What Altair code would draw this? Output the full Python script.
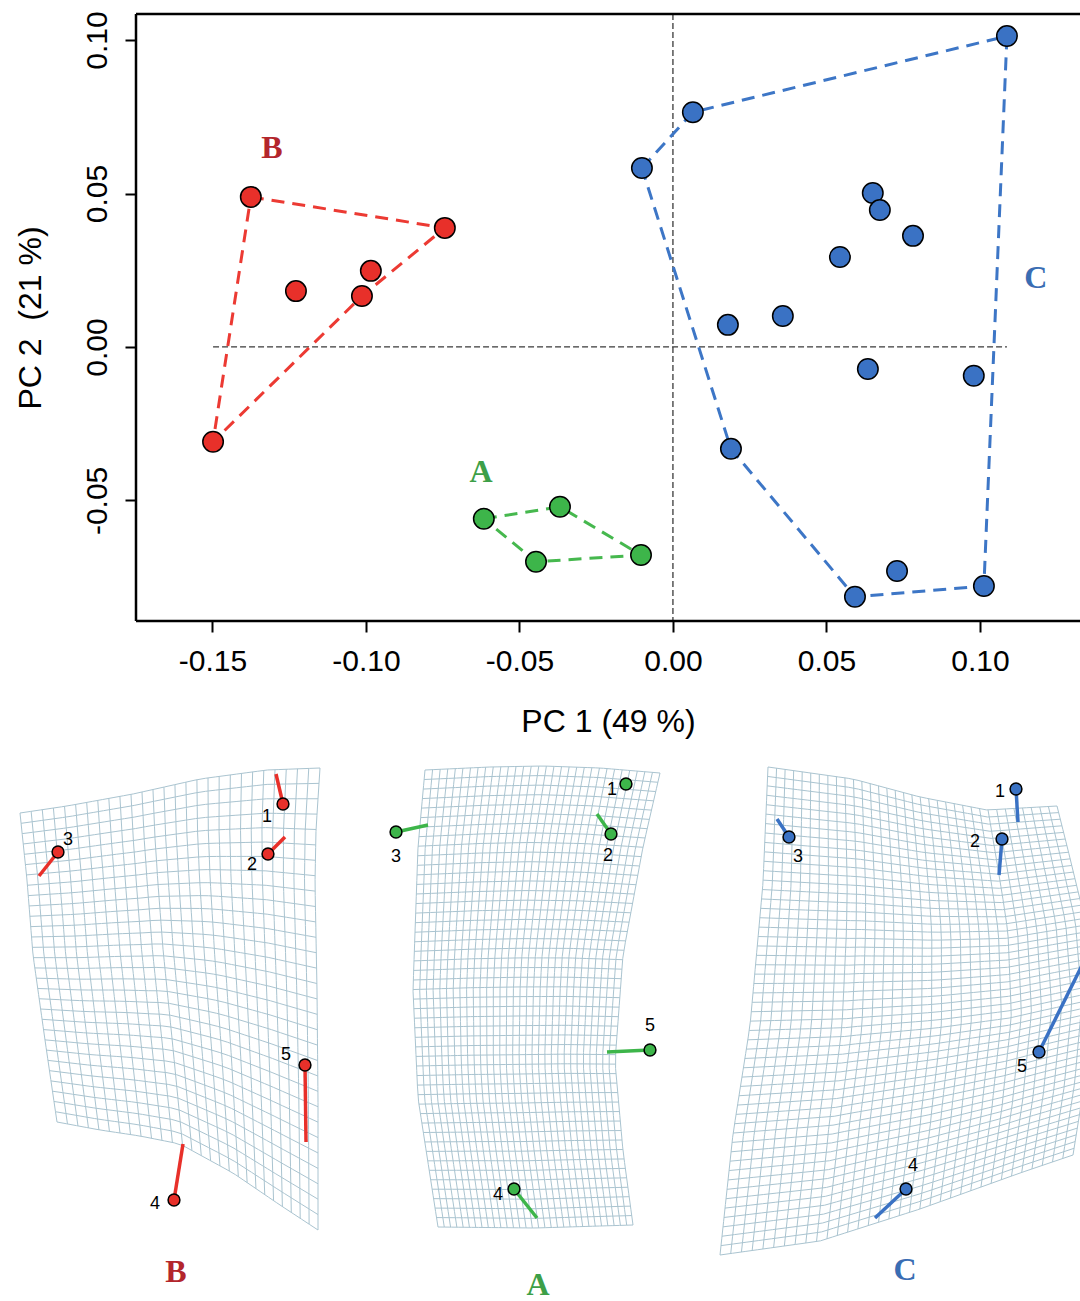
import numpy as np
import pandas as pd
import altair as alt

alt.data_transformers.disable_max_rows()

# ---------------- PCA scores ----------------
b_pc1 = [-0.1375, -0.0743, -0.0984, -0.1013, -0.1228, -0.1498]
b_pc2 = [0.0489, 0.0388, 0.0248, 0.0166, 0.0182, -0.0309]
a_pc1 = [-0.0616, -0.0368, -0.0446, -0.0104]
a_pc2 = [-0.0560, -0.0521, -0.0700, -0.0678]
c_pc1 = [0.1088, 0.0065, -0.0101, 0.0651, 0.0674, 0.0782, 0.0544, 0.0179,
         0.0358, 0.0635, 0.0980, 0.0189, 0.0730, 0.0593, 0.1013]
c_pc2 = [0.1013, 0.0765, 0.0583, 0.0502, 0.0446, 0.0362, 0.0293, 0.0072,
         0.0101, -0.0072, -0.0094, -0.0332, -0.0730, -0.0814, -0.0779]
# convex hull vertex order (indices into the arrays above)
b_hull = [0, 1, 3, 5, 0]
a_hull = [0, 1, 3, 2, 0]
c_hull = [2, 1, 0, 14, 13, 11, 2]

groups = ["A", "B", "C"]
group_label_pc1 = [-0.0625, -0.1306, 0.1182]
group_label_pc2 = [-0.0407, 0.0648, 0.0225]

x_ticks = [-0.15, -0.10, -0.05, 0.00, 0.05, 0.10]
y_ticks = [-0.05, 0.00, 0.05, 0.10]

# ---------------- deformation grids (figure pixel units) ----------------
b_top = [(20, 813), (67, 806), (133, 794), (200, 779), (267, 770), (320, 768)]
b_right = [(320, 768), (316, 830), (315, 883), (317, 990), (318, 1098), (318, 1230)]
b_left = [(20, 813), (27, 880), (33, 955), (45, 1040), (57, 1122)]
b_bottom = [(57, 1122), (100, 1130), (140, 1136), (180, 1144), (233, 1173), (280, 1205), (318, 1230)]
b_cells = (27, 30)

a_top = [(425, 770), (490, 767), (543, 766), (600, 768), (660, 773)]
a_right = [(660, 773), (643, 847), (623, 955), (615, 1062), (623, 1151), (633, 1225)]
a_left = [(425, 770), (418, 847), (413, 990), (418, 1098), (438, 1227)]
a_bottom = [(438, 1227), (535, 1228), (633, 1225)]
a_cells = (31, 48)

c_top = [(768, 767), (853, 779), (920, 797), (987, 810), (1057, 806)]
c_right = [(1057, 806), (1068, 850), (1085, 920), (1092, 1000), (1085, 1080), (1073, 1155)]
c_left = [(768, 767), (763, 883), (750, 1026), (733, 1134), (720, 1255)]
c_bottom = [(720, 1255), (820, 1241), (920, 1209), (1020, 1173), (1073, 1155)]
c_cells = (34, 52)

# landmarks: point, end of displacement vector, number label position
b_lm_x = [283, 268, 58, 174, 305]
b_lm_y = [804, 854, 852, 1200, 1065]
b_end_x = [276, 285, 39, 183, 306]
b_end_y = [774, 837, 876, 1144, 1142]
b_num_x = [267, 252, 68, 155, 286]
b_num_y = [817, 865, 840, 1204, 1055]

a_lm_x = [626, 611, 396, 514, 650]
a_lm_y = [784, 834, 832, 1189, 1050]
a_end_x = [626, 597, 428, 537, 607]
a_end_y = [784, 814, 825, 1218, 1052]
a_num_x = [612, 608, 396, 498, 650]
a_num_y = [790, 856, 857, 1195, 1026]

c_lm_x = [1016, 1002, 789, 906, 1039]
c_lm_y = [789, 839, 837, 1189, 1052]
c_end_x = [1018, 999, 777, 875, 1100]
c_end_y = [822, 875, 819, 1218, 929]
c_num_x = [1000, 975, 798, 913, 1022]
c_num_y = [792, 842, 857, 1166, 1067]

panel_label_x = [538, 176, 905]
panel_label_y = [1285, 1272, 1270]

# ---------------- styles ----------------
point_colors = ["#3db54a", "#e8302a", "#3a72c4"]
hull_colors = ["#46b84e", "#ec3a33", "#3d76c6"]
label_colors = ["#3d9f48", "#b3262c", "#3a6db3"]
grid_color = "#aac4d0"

W, H = 944, 607
X_DOM = [-0.1749, 0.1326]
Y_DOM = [-0.0893, 0.1085]
PX_DOM = [136, 1080]
PY_DOM = [14, 621]

# ---------------- tables ----------------
pts = pd.DataFrame({
    "pc1": b_pc1 + a_pc1 + c_pc1,
    "pc2": b_pc2 + a_pc2 + c_pc2,
    "grp": ["B"] * len(b_pc1) + ["A"] * len(a_pc1) + ["C"] * len(c_pc1),
})

hull_rows = []
for g, xs_, ys_, order in (("B", b_pc1, b_pc2, b_hull), ("A", a_pc1, a_pc2, a_hull), ("C", c_pc1, c_pc2, c_hull)):
    for k, i in enumerate(order):
        hull_rows.append({"pc1": xs_[i], "pc2": ys_[i], "grp": g, "ord": k})
hull = pd.DataFrame(hull_rows)

glabels = pd.DataFrame({"pc1": group_label_pc1, "pc2": group_label_pc2, "grp": groups})

all_pc1 = b_pc1 + a_pc1 + c_pc1
href = pd.DataFrame({"x": [min(all_pc1)], "x2": [max(all_pc1)], "y": [0.0]})
vref = pd.DataFrame({"x": [0.0]})


def along(pts_, t):
    p = np.asarray(pts_, float)
    seg = np.hypot(*np.diff(p, axis=0).T)
    s = np.r_[0.0, np.cumsum(seg)] / seg.sum()
    return np.interp(t, s, p[:, 0]), np.interp(t, s, p[:, 1])


def coons(top, bottom, left, right, u, v):
    tx, ty = along(top, u)
    bx, by = along(bottom, u)
    lx, ly = along(left, v)
    rx, ry = along(right, v)
    p00, p10, p01, p11 = np.array(top[0]), np.array(top[-1]), np.array(bottom[0]), np.array(bottom[-1])
    corner = lambda d: ((1 - u) * (1 - v) * p00[d] + u * (1 - v) * p10[d]
                        + (1 - u) * v * p01[d] + u * v * p11[d])
    x = (1 - v) * tx + v * bx + (1 - u) * lx + u * rx - corner(0)
    y = (1 - v) * ty + v * by + (1 - u) * ly + u * ry - corner(1)
    return x, y


grid_rows = []
lid = 0
for name, (top, bottom, left, right, cells) in {
    "B": (b_top, b_bottom, b_left, b_right, b_cells),
    "A": (a_top, a_bottom, a_left, a_right, a_cells),
    "C": (c_top, c_bottom, c_left, c_right, c_cells),
}.items():
    nc, nr = cells
    t = np.linspace(0, 1, 30)
    for i in range(nc + 1):
        x, y = coons(top, bottom, left, right, np.full_like(t, i / nc), t)
        for k in range(len(t)):
            grid_rows.append({"lid": lid, "k": k, "px": round(float(x[k]), 2), "py": round(float(y[k]), 2)})
        lid += 1
    for j in range(nr + 1):
        x, y = coons(top, bottom, left, right, t, np.full_like(t, j / nr))
        for k in range(len(t)):
            grid_rows.append({"lid": lid, "k": k, "px": round(float(x[k]), 2), "py": round(float(y[k]), 2)})
        lid += 1
grid = pd.DataFrame(grid_rows)

lm = pd.DataFrame({
    "px": b_lm_x + a_lm_x + c_lm_x,
    "py": b_lm_y + a_lm_y + c_lm_y,
    "ex": b_end_x + a_end_x + c_end_x,
    "ey": b_end_y + a_end_y + c_end_y,
    "nx": b_num_x + a_num_x + c_num_x,
    "ny": b_num_y + a_num_y + c_num_y,
    "num": [str(i) for i in range(1, 6)] * 3,
    "grp": ["B"] * 5 + ["A"] * 5 + ["C"] * 5,
})
plabels = pd.DataFrame({"px": panel_label_x, "py": panel_label_y, "grp": groups})

# ---------------- encodings ----------------
label_expr = "(datum.value < 0 ? '-' : '') + format(abs(datum.value), '.2f')"
common_axis = dict(domain=False, grid=False, tickSize=11, tickWidth=2, tickColor="black",
                   labelFont="Liberation Sans", labelFontSize=30, labelColor="black",
                   titleFont="Liberation Sans", titleFontSize=32, titleFontWeight="normal",
                   titleColor="black", labelExpr=label_expr, labelFlush=False)
x_axis = alt.Axis(values=x_ticks, title="PC 1 (49 %)", labelPadding=14, titlePadding=30, **common_axis)
y_axis = alt.Axis(values=y_ticks, title="PC 2\u00a0 (21 %)", labelAngle=270, labelAlign="center",
                  labelBaseline="alphabetic", labelPadding=19, titlePadding=35, **common_axis)
xs = alt.Scale(domain=X_DOM, nice=False, zero=False)
ys = alt.Scale(domain=Y_DOM, nice=False, zero=False)

col_pts = alt.Color("grp:N", scale=alt.Scale(domain=groups, range=point_colors), legend=None)
col_hull = alt.Color("grp:N", scale=alt.Scale(domain=groups, range=hull_colors), legend=None)
col_lab = alt.Color("grp:N", scale=alt.Scale(domain=groups, range=label_colors), legend=None)

vrule = alt.Chart(vref).mark_rule(color="#3a3a3a", strokeDash=[6, 3], strokeWidth=1.3).encode(
    x=alt.X("x:Q", scale=xs, axis=x_axis))
hrule = alt.Chart(href).mark_rule(color="#3a3a3a", strokeDash=[6, 3], strokeWidth=1.3).encode(
    x=alt.X("x:Q", scale=xs, axis=x_axis), x2="x2:Q", y=alt.Y("y:Q", scale=ys, axis=y_axis))
hull_lines = alt.Chart(hull).mark_line(strokeDash=[13, 8], strokeWidth=3).encode(
    x=alt.X("pc1:Q", scale=xs, axis=x_axis), y=alt.Y("pc2:Q", scale=ys, axis=y_axis),
    color=col_hull, detail="grp:N", order="ord:Q")
points = alt.Chart(pts).mark_circle(size=420, opacity=1, stroke="black", strokeWidth=1.5).encode(
    x=alt.X("pc1:Q", scale=xs, axis=x_axis), y=alt.Y("pc2:Q", scale=ys, axis=y_axis), color=col_pts)
glab = alt.Chart(glabels).mark_text(font="Liberation Serif", fontWeight="bold", fontSize=32).encode(
    x=alt.X("pc1:Q", scale=xs, axis=x_axis), y=alt.Y("pc2:Q", scale=ys, axis=y_axis),
    text="grp:N", color=col_lab)

frame_top = alt.Chart(vref).mark_rule(color="black", strokeWidth=2.5).encode(
    x=alt.value(0), x2=alt.value(W + 5), y=alt.value(0))
frame_left = alt.Chart(vref).mark_rule(color="black", strokeWidth=2.5).encode(
    x=alt.value(0), y=alt.value(0), y2=alt.value(H))
frame_bottom = alt.Chart(vref).mark_rule(color="black", strokeWidth=2.5).encode(
    x=alt.value(0), x2=alt.value(W + 5), y=alt.value(H))

top = alt.layer(vrule, hrule, hull_lines, points, glab, frame_top, frame_left, frame_bottom
                ).resolve_scale(color="independent")

gx = alt.X("px:Q", scale=alt.Scale(domain=PX_DOM, nice=False, zero=False), axis=None)
gy = alt.Y("py:Q", scale=alt.Scale(domain=PY_DOM, reverse=True, nice=False, zero=False), axis=None)

grid_lines = alt.Chart(grid).mark_line(color=grid_color, strokeWidth=1).encode(
    x=gx, y=gy, detail="lid:N", order="k:Q")
segs = alt.Chart(lm).mark_rule(strokeWidth=3.5).encode(
    x=gx, y=gy, x2="ex:Q", y2="ey:Q", color=col_pts)
dots = alt.Chart(lm).mark_circle(size=140, opacity=1, stroke="black", strokeWidth=1.5).encode(
    x=gx, y=gy, color=col_pts)
nums = alt.Chart(lm).mark_text(font="Liberation Sans", fontSize=18, color="black").encode(
    x=alt.X("nx:Q", scale=alt.Scale(domain=PX_DOM, nice=False, zero=False), axis=None),
    y=alt.Y("ny:Q", scale=alt.Scale(domain=PY_DOM, reverse=True, nice=False, zero=False), axis=None),
    text="num:N")
plab = alt.Chart(plabels).mark_text(font="Liberation Serif", fontWeight="bold", fontSize=32).encode(
    x=gx, y=gy, text="grp:N", color=col_lab)

bottom = alt.layer(grid_lines, segs, dots, nums, plab).resolve_scale(color="independent")

chart = alt.layer(top, bottom).resolve_scale(
    x="independent", y="independent", color="independent"
).properties(
    width=W, height=H,
    autosize=alt.AutoSizeParams(type="none"),
    padding={"left": 136, "top": 14, "right": 0, "bottom": 680},
).configure_view(stroke=None).configure(background="white")

chart.save("out.html", embed_options={"renderer": "svg", "actions": False})
